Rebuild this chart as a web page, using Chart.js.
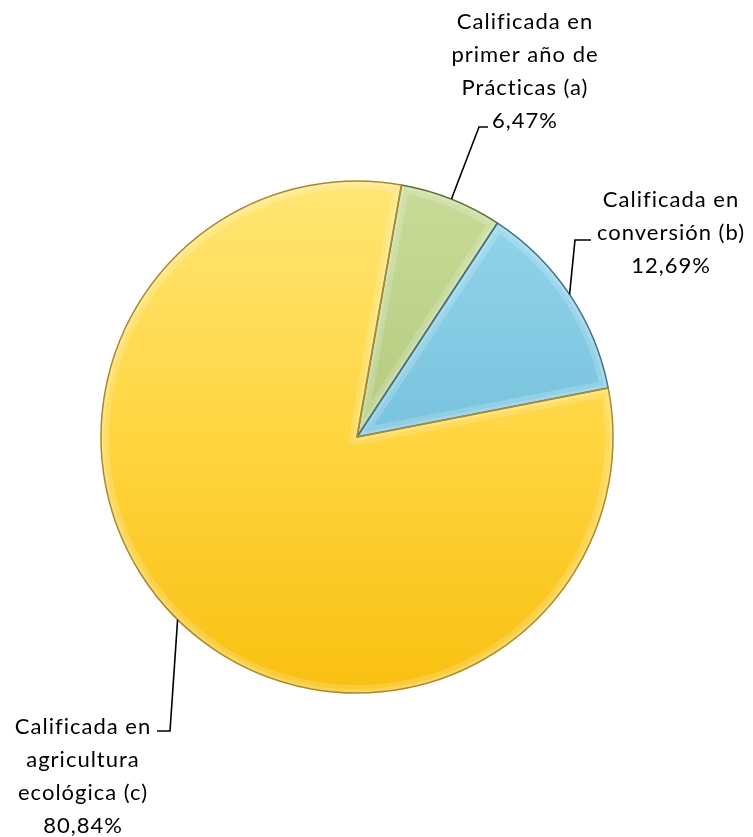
<!DOCTYPE html>
<html>
<head>
<meta charset="utf-8">
<script src="https://cdn.jsdelivr.net/npm/chart.js@4"></script>
<style>
  html, body { margin: 0; padding: 0; background: #ffffff; }
  #wrap { width: 753px; height: 837px; }
</style>
</head>
<body>
<div id="wrap"><canvas id="c" width="753" height="837"></canvas></div>
<script>
// ---- data ----
const categories = [
  "Calificada en primer año de Prácticas (a)",
  "Calificada en conversión (b)",
  "Calificada en agricultura ecológica (c)"
];
const shares = [6.47, 12.69, 80.84];
const labelLines = [
  ["Calificada en", "primer año de", "Prácticas (a)"],
  ["Calificada en", "conversión (b)"],
  ["Calificada en", "agricultura", "ecológica (c)"]
];
const valueLabels = ["6,47%", "12,69%", "80,84%"];

// ---- styling ----
const gradStops = [
  ["#c9dc98", "#b2ca7e", "#9cb468"],
  ["#95d6ec", "#78c3de", "#58aacb"],
  ["#ffe675", "#ffd540", "#f9c010"]
];
const edgeColors = ["#5f6e3a", "#3f7389", "#a88a2c"];

// label placement (annotation layout)
const labelLayout = [
  { cx: 525, y0: 22, elbow: [479, 127], dashTo: 488 },
  { cx: 671, y0: 200, elbow: [575, 240], dashTo: 591 },
  { cx: 83,  y0: 727, elbow: [170, 731], dashTo: 157 }
];
const lineGap = 33;
const fontSpec = "22px Lato, 'Open Sans', sans-serif";

function fillFor(ctx) {
  const chart = ctx.chart;
  const area = chart.chartArea;
  const stops = gradStops[ctx.dataIndex];
  if (!area) return stops[1];
  const g = chart.ctx.createLinearGradient(0, area.top, 0, area.bottom);
  g.addColorStop(0, stops[0]);
  g.addColorStop(0.5, stops[1]);
  g.addColorStop(1, stops[2]);
  return g;
}

const bevelPlugin = {
  id: 'bevel',
  afterDatasetsDraw(chart) {
    const ctx = chart.ctx;
    const meta = chart.getDatasetMeta(0);
    meta.data.forEach((arc, i) => {
      const p = arc.getProps(['x', 'y', 'startAngle', 'endAngle', 'outerRadius'], true);
      ctx.save();
      ctx.beginPath();
      ctx.moveTo(p.x, p.y);
      ctx.arc(p.x, p.y, p.outerRadius, p.startAngle, p.endAngle);
      ctx.closePath();
      ctx.clip();
      ctx.lineJoin = 'round';
      ctx.strokeStyle = 'rgba(255,255,255,0.18)';
      ctx.lineWidth = 16;
      ctx.stroke();
      ctx.strokeStyle = 'rgba(255,255,255,0.16)';
      ctx.lineWidth = 7;
      ctx.stroke();
      ctx.restore();
      ctx.save();
      ctx.beginPath();
      ctx.moveTo(p.x, p.y);
      ctx.arc(p.x, p.y, p.outerRadius, p.startAngle, p.endAngle);
      ctx.closePath();
      ctx.strokeStyle = edgeColors[i];
      ctx.lineWidth = 1.5;
      ctx.lineJoin = 'round';
      ctx.stroke();
      ctx.restore();
    });
  }
};

const labelPlugin = {
  id: 'sliceLabels',
  afterDraw(chart) {
    const ctx = chart.ctx;
    const meta = chart.getDatasetMeta(0);
    meta.data.forEach((arc, i) => {
      const p = arc.getProps(['x', 'y', 'startAngle', 'endAngle', 'outerRadius'], true);
      const mid = (p.startAngle + p.endAngle) / 2;
      const ax = p.x + Math.cos(mid) * p.outerRadius;
      const ay = p.y + Math.sin(mid) * p.outerRadius;
      const L = labelLayout[i];
      ctx.save();
      ctx.strokeStyle = '#000000';
      ctx.lineWidth = 1.6;
      ctx.beginPath();
      ctx.moveTo(ax, ay);
      ctx.lineTo(L.elbow[0], L.elbow[1]);
      ctx.lineTo(L.dashTo, L.elbow[1]);
      ctx.stroke();
      ctx.fillStyle = '#000000';
      ctx.font = fontSpec;
      ctx.textAlign = 'center';
      ctx.textBaseline = 'middle';
      try { ctx.letterSpacing = '1px'; } catch (e) {}
      const lines = labelLines[i].concat([valueLabels[i]]);
      lines.forEach((t, k) => {
        ctx.fillText(t, L.cx, L.y0 + k * lineGap);
      });
      ctx.restore();
    });
  }
};

new Chart(document.getElementById('c'), {
  type: 'pie',
  data: {
    labels: categories,
    datasets: [{
      data: shares,
      backgroundColor: fillFor,
      borderColor: edgeColors,
      borderWidth: 0
    }]
  },
  options: {
    responsive: false,
    maintainAspectRatio: false,
    devicePixelRatio: 1,
    animation: false,
    rotation: 10,
    layout: { padding: { left: 101, right: 140, top: 181, bottom: 144 } },
    plugins: {
      legend: { display: false },
      tooltip: { enabled: false }
    }
  },
  plugins: [bevelPlugin, labelPlugin]
});
</script>
</body>
</html>
